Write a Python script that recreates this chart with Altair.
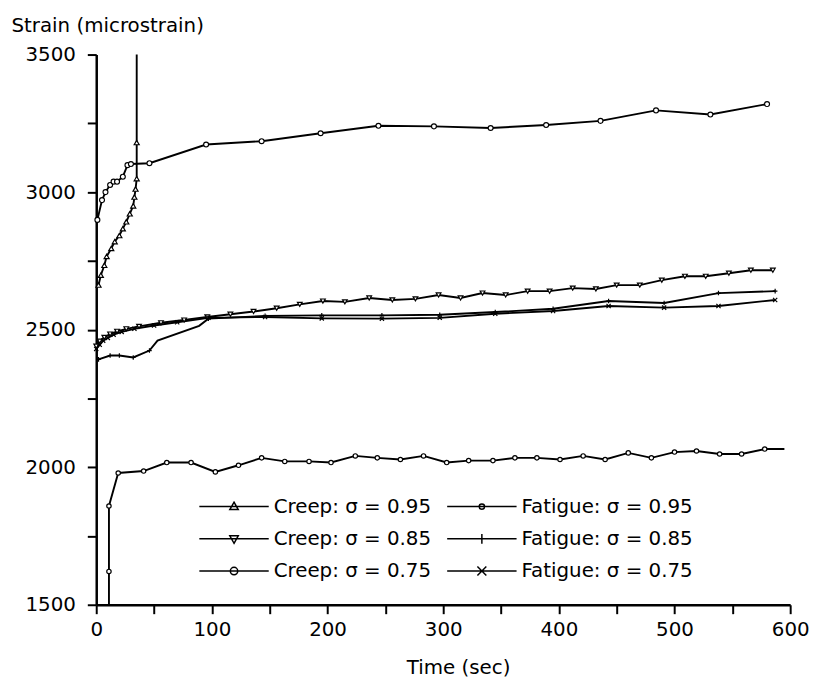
import altair as alt
import pandas as pd

series_names = ["Creep: σ = 0.95", "Fatigue: σ = 0.95", "Creep: σ = 0.85",
                "Fatigue: σ = 0.85", "Creep: σ = 0.75", "Fatigue: σ = 0.75"]
# legend entries fill column by column
legend_order = ["Creep: σ = 0.95", "Creep: σ = 0.85", "Creep: σ = 0.75",
                "Fatigue: σ = 0.95", "Fatigue: σ = 0.85", "Fatigue: σ = 0.75"]

# Creep, sigma = 0.95 (fails at ~35 s)
creep95_t = [2, 4, 7, 9, 13, 16, 20, 23, 26, 29, 32, 33, 34, 35, 35, 35]
creep95_v = [2662, 2698, 2734, 2766, 2795, 2820, 2842, 2867, 2892, 2921, 2950, 2982, 3011, 3049, 3180, 3500]
creep95_m = [1] * 15 + [0]

# Fatigue, sigma = 0.95
fatigue95_t = [1, 5, 8, 12, 15, 18, 23, 27, 30, 46, 95, 143, 194, 244, 292, 341, 389, 436, 484, 531, 580]
fatigue95_v = [2899, 2971, 3000, 3026, 3038, 3038, 3056, 3098, 3102, 3105, 3173, 3185, 3214, 3241, 3239,
               3233, 3244, 3259, 3297, 3282, 3320]
fatigue95_m = [1] * 21

# Creep, sigma = 0.85
creep85_t = [0, 3, 7, 12, 18, 26, 37, 56, 76, 96, 116, 136, 156, 176, 196, 215, 236, 256, 276, 296, 315,
             334, 354, 373, 392, 412, 432, 450, 470, 489, 509, 527, 547, 566, 585]
creep85_v = [2440, 2458, 2472, 2484, 2494, 2503, 2512, 2525, 2535, 2546, 2556, 2566, 2578, 2592, 2604, 2601,
             2615, 2608, 2612, 2626, 2615, 2633, 2626, 2640, 2640, 2651, 2648, 2662, 2662, 2680, 2694, 2694,
             2705, 2716, 2716]
creep85_m = [1] * 35

# Fatigue, sigma = 0.85
fatigue85_t = [2, 12, 20, 32, 46, 53, 89, 97, 146, 195, 247, 297, 345, 395, 443, 491, 538, 587]
fatigue85_v = [2392, 2406, 2406, 2399, 2424, 2460, 2514, 2540, 2550, 2552, 2552, 2554, 2564, 2576, 2604,
               2597, 2633, 2640]
fatigue85_m = [1, 1, 1, 1, 1, 0, 0, 1, 1, 1, 1, 1, 1, 1, 1, 1, 1, 1]

# Creep, sigma = 0.75
creep75_t = [11, 11, 11, 19, 41, 61, 82, 103, 123, 143, 163, 184, 203, 224, 243, 263, 283, 303, 322, 343,
             362, 381, 401, 421, 440, 460, 480, 500, 519, 539, 558, 578, 595]
creep75_v = [1500, 1621, 1859, 1979, 1986, 2017, 2017, 1983, 2007, 2034, 2021, 2021, 2017, 2041, 2034, 2028,
             2041, 2017, 2024, 2024, 2034, 2034, 2028, 2041, 2028, 2052, 2034, 2055, 2059, 2048, 2048, 2066,
             2066]
creep75_m = [0] + [1] * 31 + [0]

# Fatigue, sigma = 0.75
fatigue75_t = [0, 3, 6, 10, 15, 22, 33, 50, 70, 97, 146, 195, 247, 297, 345, 395, 443, 491, 538, 587]
fatigue75_v = [2430, 2445, 2460, 2470, 2482, 2492, 2503, 2515, 2527, 2543, 2546, 2541, 2540, 2543, 2558,
               2568, 2586, 2580, 2586, 2608]
fatigue75_m = [1] * 20

y_ticks = [1500, 1750, 2000, 2250, 2500, 2750, 3000, 3250, 3500]
x_ticks = [0, 50, 100, 150, 200, 250, 300, 350, 400, 450, 500, 550, 600]

series_data = [
    (series_names[0], creep95_t, creep95_v, creep95_m),
    (series_names[1], fatigue95_t, fatigue95_v, fatigue95_m),
    (series_names[2], creep85_t, creep85_v, creep85_m),
    (series_names[3], fatigue85_t, fatigue85_v, fatigue85_m),
    (series_names[4], creep75_t, creep75_v, creep75_m),
    (series_names[5], fatigue75_t, fatigue75_v, fatigue75_m),
]

rows = []
for name, ts, vs, ms in series_data:
    for i, (t, v, m) in enumerate(zip(ts, vs, ms)):
        rows.append({"series": name, "t": t, "v": v, "m": m, "i": i})
df = pd.DataFrame(rows)

# marker shapes in the plot
plot_shapes = [
    "triangle-up",
    "circle",
    "triangle-down",
    "M-1,0H1M0,-1V1",
    "circle",
    "M-1,-1L1,1M-1,1L1,-1",
]
plot_sizes = [26, 18, 22, 30, 40, 30]

# legend symbols (line segment with marker), in legend_order
legend_paths = [
    "M-7,0H7M0,-0.9L0.85,0.6L-0.85,0.6Z",
    "M-7,0H7M0,0.9L0.85,-0.6L-0.85,-0.6Z",
    "M-7,0H7M-0.75,0A0.75,0.75 0 1,0 0.75,0A0.75,0.75 0 1,0 -0.75,0Z",
    "M-7,0H7M-0.55,0A0.55,0.55 0 1,0 0.55,0A0.55,0.55 0 1,0 -0.55,0Z",
    "M-7,0H7M0,-1V1",
    "M-7,0H7M-0.9,-0.9L0.9,0.9M-0.9,0.9L0.9,-0.9",
]

FONT = "DejaVu Sans"

x_enc = alt.X("t:Q", scale=alt.Scale(domain=[0, 600], nice=False),
              axis=alt.Axis(values=x_ticks, title="Time (sec)",
                            labelExpr="datum.value % 100 === 0 ? datum.label : ''",
                            format="d", tickSize=9, tickWidth=2, domainWidth=2.5,
                            domainColor="black", tickColor="black", labelColor="black",
                            labelFont=FONT, labelFontSize=20, labelPadding=6, labelFlush=False,
                            titleFont=FONT, titleFontSize=20, titleFontWeight="normal",
                            titleColor="black", titlePadding=18, titleX=365, grid=False))
y_enc = alt.Y("v:Q", scale=alt.Scale(domain=[1500, 3500], nice=False),
              axis=alt.Axis(values=y_ticks, title="Strain (microstrain)",
                            labelExpr="datum.value % 500 === 0 ? datum.label : ''",
                            format="d", tickSize=9, tickWidth=2, domainWidth=2.5,
                            domainColor="black", tickColor="black", labelColor="black",
                            labelFont=FONT, labelFontSize=20, labelPadding=12, labelFlush=False,
                            titleFont=FONT, titleFontSize=20, titleFontWeight="normal",
                            titleColor="black", titleAngle=0, titleAlign="left",
                            titleBaseline="alphabetic", titleX=-86, titleY=-23, grid=False))

lines = alt.Chart(df).mark_line(color="black", strokeWidth=1.9).encode(
    x=x_enc, y=y_enc, detail="series:N", order="i:Q"
)

points = alt.Chart(df).transform_filter("datum.m == 1").mark_point(
    filled=True, fill="white", stroke="black", strokeWidth=1.2, opacity=1
).encode(
    x="t:Q", y="v:Q",
    shape=alt.Shape("series:N", scale=alt.Scale(domain=series_names, range=plot_shapes), legend=None),
    size=alt.Size("series:N", scale=alt.Scale(domain=series_names, range=plot_sizes), legend=None),
)

legend_layer = alt.Chart(df).transform_filter("false").mark_point(
    filled=False, color="black", strokeWidth=1.5, size=100, opacity=1
).encode(
    x="t:Q", y="v:Q",
    shape=alt.Shape("series:N", scale=alt.Scale(domain=legend_order, range=legend_paths),
                    legend=alt.Legend(title=None, orient="none", legendX=99, legendY=446,
                                      columns=2, columnPadding=11, rowPadding=12.5,
                                      symbolSize=100, symbolStrokeWidth=1.5,
                                      symbolStrokeColor="black", symbolOpacity=1,
                                      symbolOffset=30, labelOffset=30, labelLimit=400,
                                      labelFont=FONT, labelFontSize=20, labelColor="black",
                                      padding=0)),
)

chart = alt.layer(lines, points, legend_layer).resolve_scale(
    shape="independent", size="independent"
).properties(
    width=700, height=555,
    autosize=alt.AutoSizeParams(type="none"),
    padding={"left": 89, "top": 44, "right": 21, "bottom": 80},
    background="white",
).configure_view(stroke=None)

chart.save("out.html", embed_options={"renderer": "svg", "actions": False})
